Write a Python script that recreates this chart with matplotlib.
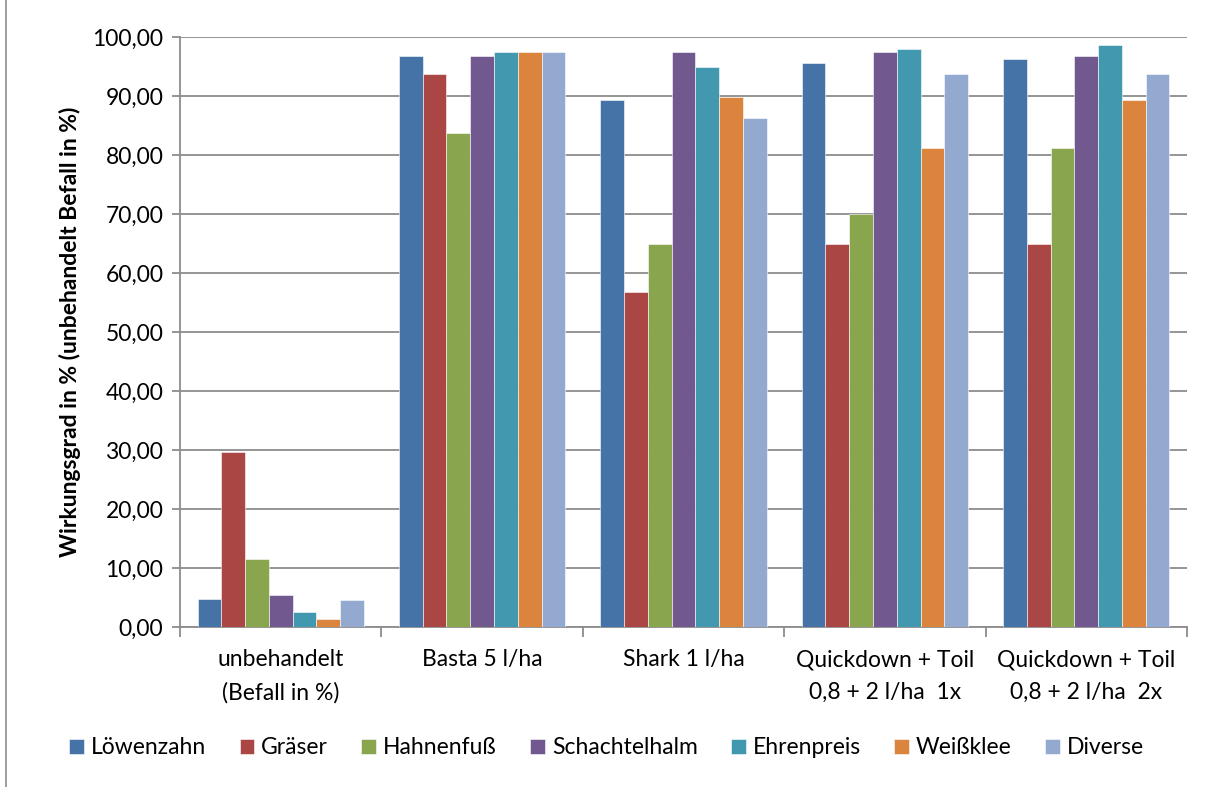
import matplotlib
matplotlib.use("Agg")
import matplotlib.pyplot as plt
import numpy as np
from matplotlib.patches import Rectangle
from matplotlib.ticker import FuncFormatter, FixedLocator

plt.rcParams['font.family'] = ['Lato', 'DejaVu Sans']

categories = ["unbehandelt\n(Befall in %)", "Basta 5 l/ha", "Shark 1 l/ha",
              "Quickdown + Toil\n0,8 + 2 l/ha  1x", "Quickdown + Toil\n0,8 + 2 l/ha  2x"]
series_names = ["Löwenzahn", "Gräser", "Hahnenfuß", "Schachtelhalm", "Ehrenpreis", "Weißklee", "Diverse"]
loewenzahn = [4.7, 96.8, 89.3, 95.6, 96.2]
graeser = [29.6, 93.7, 56.8, 64.9, 64.9]
hahnenfuss = [11.5, 83.7, 64.9, 70.0, 81.2]
schachtelhalm = [5.4, 96.8, 97.4, 97.4, 96.8]
ehrenpreis = [2.6, 97.4, 94.9, 98.0, 98.6]
weissklee = [1.4, 97.4, 89.9, 81.2, 89.3]
diverse = [4.5, 97.4, 86.2, 93.7, 93.7]
colors = ["#4572A7", "#AA4643", "#89A54E", "#71588F", "#4198AF", "#DB843D", "#93A9CF"]

data = [loewenzahn, graeser, hahnenfuss, schachtelhalm, ehrenpreis, weissklee, diverse]

fig = plt.figure(figsize=(12.13, 7.87), dpi=100)
ax = fig.add_axes([180/1213, 1-627/787, (1187-180)/1213, (627-37)/787])

x = np.arange(len(categories))
w = 0.118
for i, (vals, c, name) in enumerate(zip(data, colors, series_names)):
    ax.bar(x + (i - 3) * w, vals, width=w, color=c, label=name, edgecolor='white', linewidth=0.4, zorder=3)

ax.set_xlim(-0.5, len(categories) - 0.5)
ax.set_ylim(0, 100)
ax.yaxis.set_major_locator(FixedLocator(np.arange(0, 101, 10)))
ax.yaxis.set_major_formatter(FuncFormatter(lambda v, p: f"{v:.2f}".replace('.', ',')))
ax.grid(axis='y', color='#8c8c8c', linewidth=1.3, zorder=0)
ax.set_axisbelow(True)
for s in ['top', 'right']:
    ax.spines[s].set_visible(False)
ax.spines['left'].set_color('#8c8c8c')
ax.spines['bottom'].set_color('#8c8c8c')
ax.spines['left'].set_linewidth(1.3)
ax.spines['bottom'].set_linewidth(1.3)

ax.set_xticks(np.arange(-0.5, len(categories), 1.0))
ax.set_xticklabels([])
ax.tick_params(axis='x', length=7, color='#8c8c8c', width=1.3)
ax.tick_params(axis='y', length=6, color='#8c8c8c', width=1.3, labelsize=16.5, pad=6)
for xi, lab in zip(x, categories):
    ax.text(xi, -3.8, lab, ha='center', va='top', fontsize=16.5, linespacing=1.65,
            transform=ax.transData)

ax.set_ylabel("Wirkungsgrad in % (unbehandelt Befall in %)", fontsize=16.5, fontweight='bold', labelpad=8)

leg = fig.legend(loc='center', bbox_to_anchor=(0.5, 1-748/787), ncol=7, frameon=False,
                 fontsize=16.5, handlelength=0.65, handleheight=0.65, handletextpad=0.3, columnspacing=1.45)

fig.patches.append(Rectangle((6/1213, -0.01), 1.2, 1.2, transform=fig.transFigure,
                             fill=False, edgecolor='#8c8c8c', linewidth=1.2))

fig.savefig("out.png", dpi=100)
